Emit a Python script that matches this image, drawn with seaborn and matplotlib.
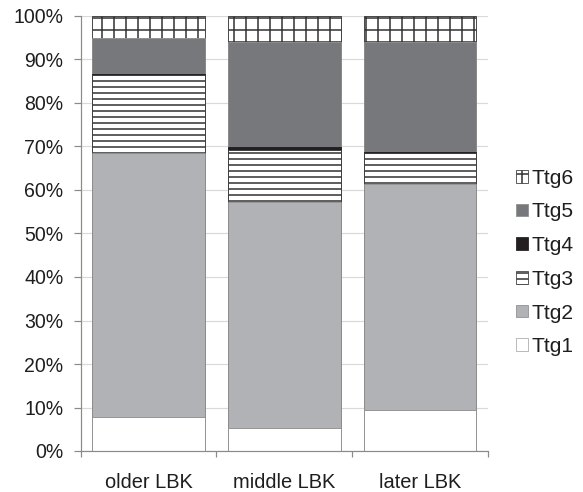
import matplotlib
matplotlib.use('Agg')
import matplotlib.pyplot as plt
import seaborn as sns
import pandas as pd
from matplotlib.patches import Patch
from matplotlib.ticker import MultipleLocator, FixedLocator, PercentFormatter

# Data (percent of each phase)
phases = ['older LBK', 'middle LBK', 'later LBK']
ttg1 = [7.9, 5.2, 9.5]
ttg2 = [60.5, 52.1, 51.8]
ttg3 = [18.1, 11.9, 7.1]
ttg4 = [0.2, 0.6, 0.4]
ttg5 = [8.3, 24.2, 25.2]
ttg6 = [5.0, 6.0, 6.0]

layers = ['Ttg1', 'Ttg2', 'Ttg3', 'Ttg4', 'Ttg5', 'Ttg6']
df = pd.DataFrame({'phase': phases, 'Ttg1': ttg1, 'Ttg2': ttg2, 'Ttg3': ttg3,
                   'Ttg4': ttg4, 'Ttg5': ttg5, 'Ttg6': ttg6})
cum = df[layers].cumsum(axis=1)
cum['phase'] = df['phase']

styles = {
    'Ttg1': dict(color='white', hatch=None, edgecolor='#8f8f8f'),
    'Ttg2': dict(color='#b1b2b6', hatch=None, edgecolor='#8f8f8f'),
    'Ttg3': dict(color='white', hatch='--', edgecolor='#3a3a3a'),
    'Ttg4': dict(color='#231f20', hatch=None, edgecolor='#231f20'),
    'Ttg5': dict(color='#77787c', hatch=None, edgecolor='#8f8f8f'),
    'Ttg6': dict(color='white', hatch='+', edgecolor='#3a3a3a'),
}

sns.set_style('white')
plt.rcParams['font.family'] = ['Liberation Sans', 'DejaVu Sans']
plt.rcParams['hatch.linewidth'] = 1.6

dpi = 72
fig = plt.figure(figsize=(583 / dpi, 492 / dpi), dpi=dpi)
ax = fig.add_axes([80.5 / 583, 41 / 492, 407.5 / 583, 435 / 492])

# stacked bars: draw cumulative heights from the top layer down
for name in reversed(layers):
    st = styles[name]
    sns.barplot(data=cum, x='phase', y=name, color=st['color'], saturation=1,
                hatch=st['hatch'], edgecolor=st['edgecolor'], linewidth=0.9,
                width=0.83, errorbar=None, ax=ax, zorder=2)

ax.set_ylim(0, 100)
ax.set_xlim(-0.5, 2.5)
ax.yaxis.set_major_locator(MultipleLocator(10))
ax.yaxis.set_major_formatter(PercentFormatter(decimals=0))
ax.grid(axis='y', color='#d9d9d9', linewidth=1.2, zorder=0)
ax.set_axisbelow(True)
ax.set_xlabel('')
ax.set_ylabel('')

for s in ['top', 'right']:
    ax.spines[s].set_visible(False)
for s in ['left', 'bottom']:
    ax.spines[s].set_color('#8a8a8a')
    ax.spines[s].set_linewidth(1.2)

ax.tick_params(axis='y', which='major', direction='out', length=7, width=1.2,
               color='#8a8a8a', pad=10, labelsize=19.5, labelcolor='#1e1e1e', left=True)
ax.tick_params(axis='x', which='major', length=0, pad=22, labelsize=20,
               labelcolor='#1e1e1e')
ax.xaxis.set_minor_locator(FixedLocator([-0.5, 0.5, 1.5, 2.5]))
ax.tick_params(axis='x', which='minor', direction='out', length=6, width=1.2,
               color='#8a8a8a', bottom=True)

handles = [Patch(facecolor=styles[n]['color'], hatch=styles[n]['hatch'],
                 edgecolor=styles[n]['edgecolor'] if n != 'Ttg1' else '#aaaaaa',
                 linewidth=0.8, label=n)
           for n in reversed(layers)]
fig.legend(handles=handles, loc='center left', bbox_to_anchor=(516 / 583, 229.5 / 492),
           frameon=False, fontsize=21, handlelength=0.55, handleheight=0.55,
           handletextpad=0.2, labelspacing=0.7, borderpad=0, borderaxespad=0,
           labelcolor='#1e1e1e')

fig.savefig('out.png', dpi=dpi)
